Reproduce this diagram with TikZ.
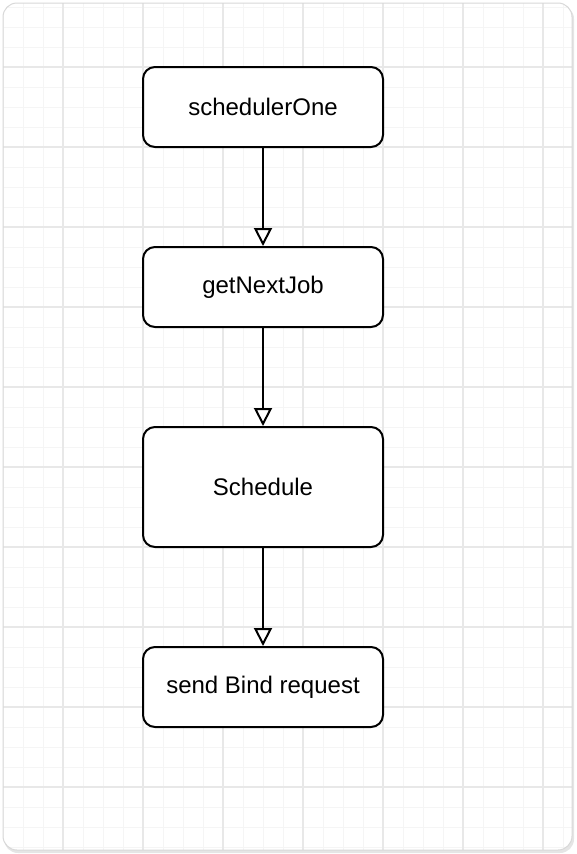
\documentclass[tikz,border=0pt]{standalone}
\usepackage{fontspec}
\setmainfont{Liberation Sans}
\usetikzlibrary{arrows.meta}
\definecolor{minorgrid}{HTML}{F5F5F5}
\definecolor{majorgrid}{HTML}{E8E8E8}
\definecolor{framec}{HTML}{D8D8D8}
\tikzset{
  flowbox/.style={draw=black, line width=2pt, rounded corners=12pt, fill=white,
    minimum width=240pt, inner sep=0pt, font=\fontsize{24}{28}\selectfont},
  flowarrow/.style={draw=black, line width=2pt,
    -{Triangle[fill=white, width=18pt, length=18pt, line width=2pt]}}
}
\begin{document}
\begin{tikzpicture}[x=1pt, y=-1pt]
\useasboundingbox (0,0) rectangle (576,854);
% shadow + frame
\fill[black!10, rounded corners=14pt] (4,5) rectangle (574,853);
\fill[white, rounded corners=14pt] (3,3) rectangle (572,850);
\begin{scope}
\clip[rounded corners=14pt] (3,3) rectangle (572,850);
\foreach \x in {3,23,...,571} \draw[minorgrid, line width=1pt] (\x,3) -- (\x,850);
\foreach \y in {7,27,...,849} \draw[minorgrid, line width=1pt] (3,\y) -- (572,\y);
\foreach \x in {63,143,...,571} \draw[majorgrid, line width=1.3pt] (\x,3) -- (\x,850);
\foreach \y in {67,147,...,849} \draw[majorgrid, line width=1.3pt] (3,\y) -- (572,\y);
\end{scope}
\draw[framec, line width=1pt, rounded corners=14pt] (3,3) rectangle (572,850);
% nodes
\node[flowbox, minimum height=80pt] (one) at (263,107) {schedulerOne};
\node[flowbox, minimum height=80pt] (next) at (263,287) {getNextJob};
\node[flowbox, minimum height=120pt] (sched) at (263,487) {Schedule};
\node[flowbox, minimum height=80pt] (bind) at (263,687) {send Bind request};
% connectors
\draw[flowarrow] (one.south) -- (next.north);
\draw[flowarrow] (next.south) -- (sched.north);
\draw[flowarrow] (sched.south) -- (bind.north);
\end{tikzpicture}
\end{document}
